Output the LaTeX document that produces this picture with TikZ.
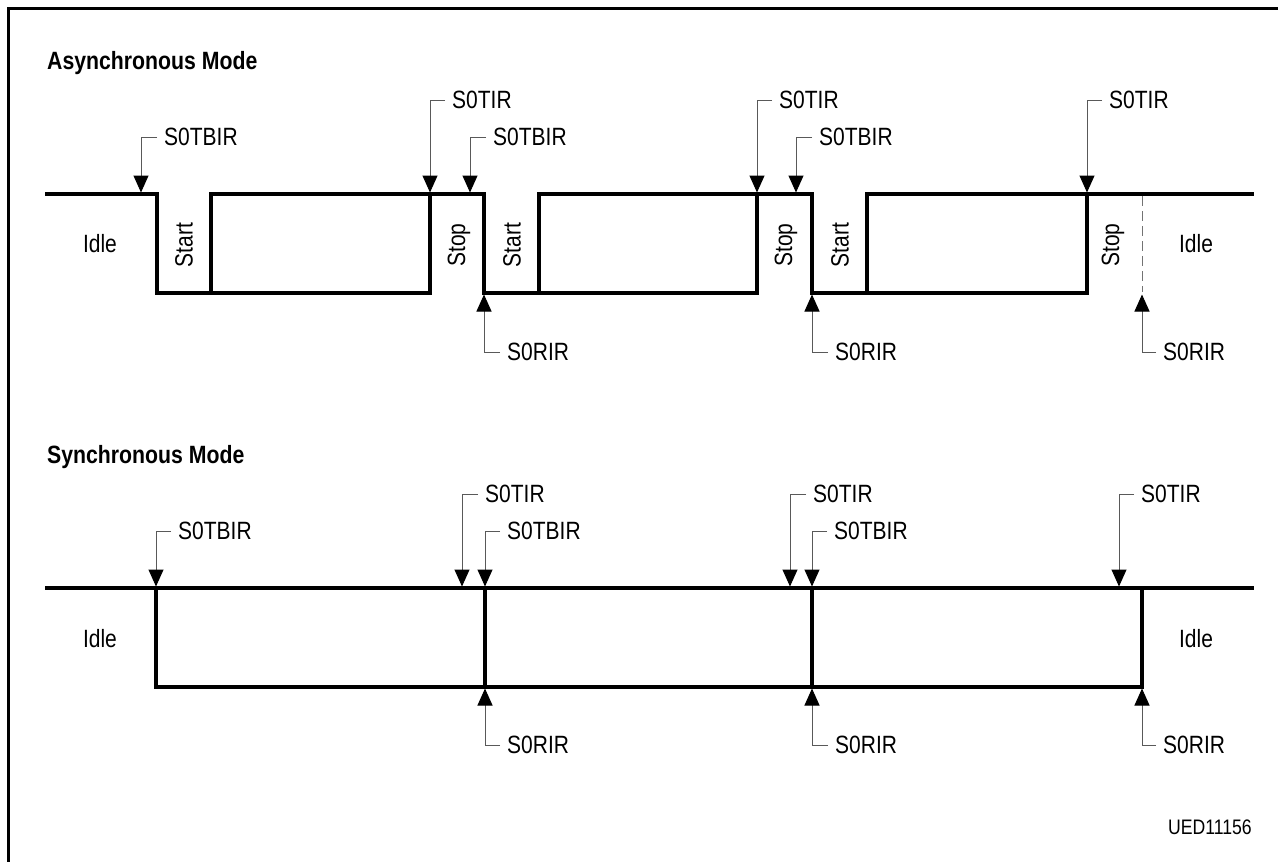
\documentclass[tikz,border=0pt]{standalone}
\usepackage{fontspec}
\usepackage{graphicx}
\setmainfont{Liberation Sans}
\usetikzlibrary{arrows.meta}
\newcommand\cnd[1]{\scalebox{0.84}[1]{#1}}
\begin{document}
\begin{tikzpicture}[x=1pt,y=-1pt,
  sig/.style={line width=3.2pt,line join=miter,line cap=rect},
  arr/.style={line width=1pt,draw=black!65,-{Triangle[length=17pt,width=15pt,color=black]}},
  lbl/.style={inner sep=0pt,anchor=west,font=\fontsize{25}{30}\selectfont},
  rot/.style={inner sep=0pt,rotate=90,font=\fontsize{25}{30}\selectfont},
  ttl/.style={inner sep=0pt,anchor=base west,font=\fontsize{25}{30}\selectfont\bfseries},
  frame/.style={line width=3pt}]
\useasboundingbox (0,0) rectangle (1278,862);
% frame
\draw[frame] (8,862) -- (8,8) -- (1278,8);
% titles
\node[ttl] (t1) at (47,69) {\scalebox{0.85}[1]{Asynchronous Mode}};
\node[ttl] (t2) at (47,463) {\scalebox{0.85}[1]{Synchronous Mode}};
% ---------- asynchronous signal
\draw[sig] (47,194) -- (157,194) -- (157,293) -- (430,293) -- (430,194) -- (484,194) -- (484,293)
  -- (757,293) -- (757,194) -- (812,194) -- (812,293) -- (1087,293) -- (1087,194) -- (1252,194);
\draw[sig] (211,293) -- (211,194) -- (430,194);
\draw[sig] (539,293) -- (539,194) -- (757,194);
\draw[sig] (867,293) -- (867,194) -- (1087,194);
\draw[line width=1pt,draw=black!55,dash pattern=on 10pt off 5pt] (1142,196) -- (1142,292);
% async texts
\node[lbl,anchor=center] (idleA1) at (100,244) {\cnd{Idle}};
\node[lbl,anchor=center] (idleA2) at (1196,244) {\cnd{Idle}};
\node[rot] (st1) at (184,245) {\cnd{Start}};
\node[rot] (sp1) at (459,245) {\cnd{Stop}};
\node[rot] (st2) at (512,245) {\cnd{Start}};
\node[rot] (sp2) at (786,245) {\cnd{Stop}};
\node[rot] (st3) at (840,245) {\cnd{Start}};
\node[rot] (sp3) at (1113,245) {\cnd{Stop}};
% async arrow tips
\coordinate (a1) at (141,192.5);
\coordinate (a2) at (430,192.5);
\coordinate (a3) at (470,192.5);
\coordinate (a4) at (484,294.5);
\coordinate (a5) at (757,192.5);
\coordinate (a6) at (796,192.5);
\coordinate (a7) at (812,294.5);
\coordinate (a8) at (1087,192.5);
\coordinate (a9) at (1142,294.5);
\node[lbl] (l1) at (164,137) {\cnd{S0TBIR}};
\node[lbl] (l2) at (452,100) {\cnd{S0TIR}};
\node[lbl] (l3) at (493,137) {\cnd{S0TBIR}};
\node[lbl] (l4) at (507,352) {\cnd{S0RIR}};
\node[lbl] (l5) at (779,100) {\cnd{S0TIR}};
\node[lbl] (l6) at (819,137) {\cnd{S0TBIR}};
\node[lbl] (l7) at (835,352) {\cnd{S0RIR}};
\node[lbl] (l8) at (1109,100) {\cnd{S0TIR}};
\node[lbl] (l9) at (1163,352) {\cnd{S0RIR}};
\foreach \i in {1,...,9}{\draw[arr] ([xshift=-7pt]l\i.west) -| (a\i);}
% ---------- synchronous signal
\draw[sig] (47,588) -- (1252,588);
\draw[sig] (156,588) -- (156,687) -- (1142,687) -- (1142,588);
\draw[sig] (485,588) -- (485,687);
\draw[sig] (812,588) -- (812,687);
\node[lbl,anchor=center] (idleB1) at (100,639) {\cnd{Idle}};
\node[lbl,anchor=center] (idleB2) at (1196,639) {\cnd{Idle}};
\coordinate (b1) at (156,586.5);
\coordinate (b2) at (462,586.5);
\coordinate (b3) at (485,586.5);
\coordinate (b4) at (485,688.5);
\coordinate (b5) at (790,586.5);
\coordinate (b6) at (812,586.5);
\coordinate (b7) at (812,688.5);
\coordinate (b8) at (1119,586.5);
\coordinate (b9) at (1142,688.5);
\node[lbl] (m1) at (178,531) {\cnd{S0TBIR}};
\node[lbl] (m2) at (485,494) {\cnd{S0TIR}};
\node[lbl] (m3) at (507,531) {\cnd{S0TBIR}};
\node[lbl] (m4) at (507,745) {\cnd{S0RIR}};
\node[lbl] (m5) at (813,494) {\cnd{S0TIR}};
\node[lbl] (m6) at (834,531) {\cnd{S0TBIR}};
\node[lbl] (m7) at (835,745) {\cnd{S0RIR}};
\node[lbl] (m8) at (1141,494) {\cnd{S0TIR}};
\node[lbl] (m9) at (1163,745) {\cnd{S0RIR}};
\foreach \i in {1,...,9}{\draw[arr] ([xshift=-7pt]m\i.west) -| (b\i);}
% id
\node[inner sep=0pt,anchor=east,font=\fontsize{21}{25}\selectfont] (id) at (1252,827) {\cnd{UED11156}};
\end{tikzpicture}
\end{document}
